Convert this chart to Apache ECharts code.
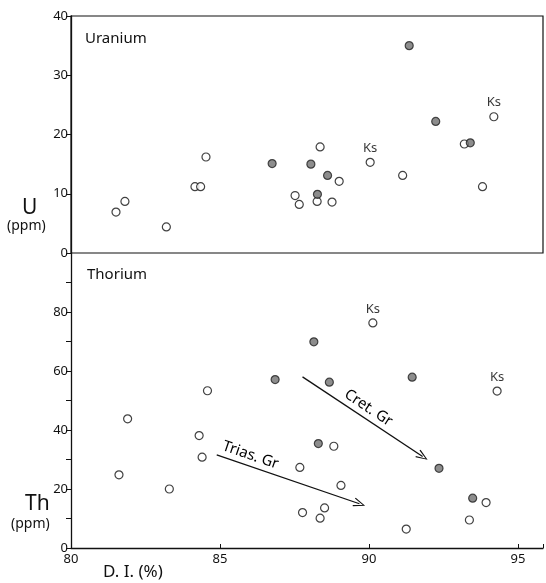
<!DOCTYPE html>
<html>
<head>
<meta charset="utf-8">
<script src="https://cdn.jsdelivr.net/npm/echarts@6/dist/echarts.min.js"></script>
<style>
  html, body { margin: 0; padding: 0; background: #fff; }
  #chart { width: 546px; height: 583px; }
</style>
</head>
<body>
<div id="chart"></div>
<script>
// D.I. (%) vs U (ppm), top panel
const uOpen = [[81.51,6.9],[81.81,8.7],[83.2,4.4],[84.16,11.2],[84.35,11.2],[84.53,16.2],
  [88.36,17.9],[89.0,12.1],[87.52,9.7],[87.66,8.2],[88.26,8.7],[88.76,8.6],
  [91.13,13.1],[93.2,18.4],[93.81,11.2]];
const uFilled = [[86.75,15.1],[91.35,35.0],[88.05,15.0],[88.61,13.1],[88.27,9.9],[92.24,22.2],[93.4,18.6]];
const uKs = [[90.04,15.3],[94.19,23.0]];

// D.I. (%) vs Th (ppm), bottom panel
const thOpen = [[81.61,24.8],[81.9,43.8],[83.3,20.0],[84.3,38.1],[84.4,30.8],[84.58,53.3],
  [88.82,34.5],[87.68,27.3],[89.06,21.2],[88.51,13.6],[87.77,12.0],[88.36,10.1],
  [91.25,6.4],[93.37,9.5],[93.93,15.4]];
const thFilled = [[86.85,57.1],[88.15,69.9],[88.67,56.2],[91.45,57.9],[88.3,35.4],[92.35,27.0],[93.48,16.9]];
const thKs = [[90.13,76.3],[94.3,53.2]];

// trend arrows
const triasArrow = [[84.89,31.6],[89.68,15.0]];
const cretArrow = [[87.77,58.0],[91.8,31.0]];

const font = 'Noto Sans';
const ink = '#111';

const openStyle = { color: '#fff', borderColor: ink, borderWidth: 1.2 };
const fillStyle = { color: '#707070', borderColor: '#222', borderWidth: 1.2 };
const chevron = 'path://M5,0 L10,12 L8.8,12.6 L5,2.6 L1.2,12.6 L0,12 Z';

function pts(name, data, style, xi, label) {
  const s = {
    name, type: 'scatter', data, xAxisIndex: xi, yAxisIndex: xi,
    symbol: 'circle', symbolSize: 8, itemStyle: style, silent: true
  };
  if (label) {
    s.label = { show: true, formatter: label, position: 'top', distance: 3,
      fontFamily: font, fontSize: 13, color: '#000' };
  }
  return s;
}

function arrow(data, text, pos) {
  return {
    type: 'line', data: [], xAxisIndex: 1, yAxisIndex: 1,
    markLine: {
      silent: true, animation: false,
      symbol: ['none', chevron], symbolSize: [9, 12],
      lineStyle: { color: ink, width: 1.3, type: 'solid' },
      label: { show: true, formatter: text, position: pos, distance: 3,
        fontFamily: font, fontSize: 15, color: '#000' },
      data: [[{ coord: data[0] }, { coord: data[1] }]]
    }
  };
}

const xBase = {
  type: 'value', min: 80, max: 95.84, interval: 5,
  splitLine: { show: false }
};
const yBase = {
  type: 'value',
  axisLine: { show: true, lineStyle: { color: ink, width: 1.3 } },
  axisTick: { show: true, inside: false, length: 5, lineStyle: { color: ink } },
  axisLabel: { fontFamily: font, fontSize: 13, color: ink, margin: 3 },
  splitLine: { show: false }
};

const chart = echarts.init(document.getElementById('chart'));
chart.setOption({
  animation: false,
  grid: [
    { left: 71, top: 16, width: 472, height: 237, show: true, borderColor: ink, borderWidth: 1.2, backgroundColor: 'transparent' },
    { left: 71, top: 253, width: 472, height: 295 }
  ],
  xAxis: [
    Object.assign({}, xBase, { gridIndex: 0, axisLine: { show: false }, axisTick: { show: false }, axisLabel: { show: false } }),
    Object.assign({}, xBase, {
      gridIndex: 1,
      axisLine: { show: true, lineStyle: { color: ink, width: 1.3 } },
      axisTick: { show: true, inside: true, length: 4, lineStyle: { color: ink } },
      axisLabel: { fontFamily: font, fontSize: 13, color: ink, margin: 5,
        formatter: v => (v % 5 === 0 ? String(v) : '') }
    })
  ],
  yAxis: [
    Object.assign({}, yBase, { gridIndex: 0, min: 0, max: 40, interval: 10 }),
    Object.assign({}, yBase, { gridIndex: 1, min: 0, max: 100, interval: 10,
      axisLabel: Object.assign({}, yBase.axisLabel, {
        formatter: v => (v % 20 === 0 && v < 100 ? String(v) : '') }) })
  ],
  series: [
    pts('uOpen', uOpen, openStyle, 0),
    pts('uFilled', uFilled, fillStyle, 0),
    pts('uKs', uKs, openStyle, 0, 'Ks'),
    pts('thOpen', thOpen, openStyle, 1),
    pts('thFilled', thFilled, fillStyle, 1),
    pts('thKs', thKs, openStyle, 1, 'Ks'),
    arrow(triasArrow, 'Trias. Gr', 'insideStartTop'),
    arrow(cretArrow, 'Cret. Gr', 'insideMiddleTop')
  ],
  graphic: [
    { type: 'text', left: 85, top: 31, style: { text: 'Uranium', fontFamily: font, fontSize: 15, fill: ink } },
    { type: 'text', left: 87, top: 267, style: { text: 'Thorium', fontFamily: font, fontSize: 15, fill: ink } },
    { type: 'text', left: 22, top: 198, style: { text: 'U', fontFamily: font, fontSize: 21, fill: ink } },
    { type: 'text', left: 7, top: 219, style: { text: '(ppm)', fontFamily: font, fontSize: 14, fill: ink } },
    { type: 'text', left: 25, top: 494, style: { text: 'Th', fontFamily: font, fontSize: 21, fill: ink } },
    { type: 'text', left: 11, top: 517, style: { text: '(ppm)', fontFamily: font, fontSize: 14, fill: ink } },
    { type: 'text', left: 103, top: 564, style: { text: 'D. I. (%)', fontFamily: font, fontSize: 17, fill: ink } }
  ]
});
</script>
</body>
</html>
